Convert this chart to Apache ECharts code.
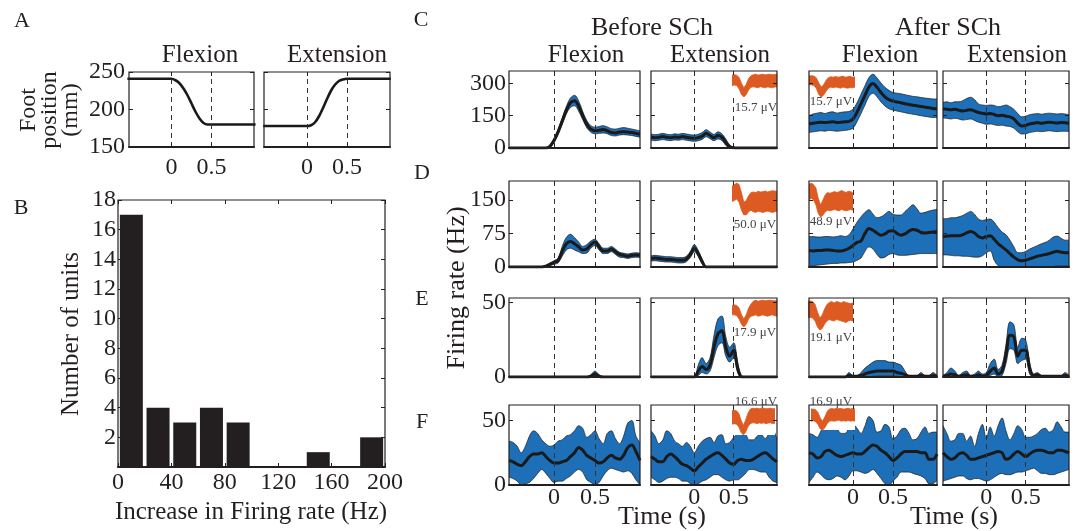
<!DOCTYPE html>
<html>
<head>
<meta charset="utf-8">
<script src="https://cdn.jsdelivr.net/npm/echarts@6/dist/echarts.min.js"></script>
<style>
  html, body { margin: 0; padding: 0; background: #fff; }
  #chart { width: 1084px; height: 531px; }
</style>
</head>
<body>
<div id="chart"></div>
<script>
// ---- data ----
const tAxis = [-0.55,-0.5,-0.45,-0.4,-0.35,-0.3,-0.25,-0.2,-0.15,-0.1,-0.05,0,0.05,0.1,0.15,0.2,0.25,0.3,0.35,0.4,0.45,0.5,0.55,0.6,0.65,0.7,0.75,0.8,0.85,0.9,0.95,1,1.05]
const eventTimes = [0, 0.5]

// A: foot position (mm)
const footFlexion = [241,241,241,241,241,241,241,241,241,241,241,241,239,235,228,219,208,197,188,182,180,180,180,180,180,180,180,180,180,180,180,180,180]
const footExtension = [178,178,178,178,178,178,178,178,178,178,178,178,179,183,191,202,214,225,233,238,240,241,241,241,241,241,241,241,241,241,241,241,241]
const footTicks = [150, 200, 250]

// B: histogram
const histBinCentres = [10, 30, 50, 70, 90, 110, 130, 150, 170, 190]
const histCounts = [17, 4, 3, 4, 3, 0, 0, 1, 0, 2]
const histXTicks = [0, 40, 80, 120, 160, 200]
const histYTicks = [2, 4, 6, 8, 10, 12, 14, 16, 18]

// C-F: firing rate (Hz), mean and band edges
const cBFMean = [0,0,0,0,0,0,0,0,0,0,8,35,75,125,175,210,220,195,150,110,88,80,82,86,80,72,70,74,76,74,72,68,64]
const cBFUp = [2,2,2,2,2,2,2,2,2,2,14,45,88,140,193,232,245,220,170,128,104,97,100,104,98,90,88,92,95,92,88,84,80]
const cBFLo = [0,0,0,0,0,0,0,0,0,0,3,26,63,110,158,188,196,172,132,94,73,66,68,70,66,58,56,60,62,60,58,54,50]
const cBEMean = [50,48,50,53,50,48,51,50,53,50,47,45,48,55,68,58,48,58,50,26,6,1,0,0,0,0,0,0,0,0,0,0,0]
const cBEUp = [65,62,64,68,64,62,66,64,68,65,62,60,64,72,85,74,63,75,66,42,14,4,2,2,2,2,2,2,2,2,2,2,2]
const cBELo = [36,34,36,39,36,34,37,36,39,36,33,31,34,40,52,43,34,42,35,12,0,0,0,0,0,0,0,0,0,0,0,0,0]
const cAFMean = [112,115,118,120,118,120,122,118,120,122,124,135,166,205,245,284,300,282,258,238,225,218,214,210,206,202,199,196,193,190,187,184,182]
const cAFUp = [150,158,162,165,160,166,168,162,166,168,170,180,210,250,290,328,343,326,302,282,268,258,255,252,248,244,240,238,235,232,230,228,228]
const cAFLo = [72,75,78,80,78,82,80,78,80,82,85,92,122,160,200,240,255,238,214,195,182,176,172,168,164,160,157,154,150,147,144,142,142]
const cAEMean = [182,180,178,180,176,172,175,178,172,165,162,158,160,156,150,152,148,145,135,115,102,105,112,115,118,115,118,120,118,116,118,117,115]
const cAEUp = [212,215,210,215,215,220,230,236,225,205,200,198,200,198,192,195,200,192,180,160,145,148,155,158,160,157,160,162,160,158,160,158,156]
const cAELo = [140,138,135,138,135,130,132,135,128,120,115,110,112,108,105,106,102,100,92,75,65,66,72,75,78,76,78,80,78,76,78,78,76]

const dBFMean = [0,0,0,0,0,0,0,0,0,2,6,10,15,35,52,57,52,45,38,40,50,56,45,36,36,40,34,28,26,24,26,27,26]
const dBFUp = [1,1,1,1,1,1,1,1,1,3,9,14,20,46,66,73,66,56,46,50,58,62,52,42,42,46,40,33,31,29,31,32,31]
const dBFLo = [0,0,0,0,0,0,0,0,0,0,3,6,9,24,38,42,38,34,30,31,42,48,38,30,30,34,28,22,21,19,21,22,21]
const dBEMean = [19,20,19,18,17,17,16,15,15,18,28,42,30,12,0,0,0,0,0,0,0,0,0,0,0,0,0,0,0,0,0,0,0]
const dBEUp = [25,26,25,24,23,23,22,21,21,24,35,50,37,17,1,1,1,1,1,1,1,1,1,1,1,1,1,1,1,1,1,1,1]
const dBELo = [13,14,13,12,11,11,10,9,9,12,21,34,23,7,0,0,0,0,0,0,0,0,0,0,0,0,0,0,0,0,0,0,0]
const dAFMean = [37,36,37,37,38,38,37,36,36,38,42,48,55,58,75,86,82,76,71,74,80,81,75,71,74,80,84,82,77,76,77,78,79]
const dAFUp = [68,68,67,67,68,68,67,68,70,68,72,85,100,112,122,128,118,110,112,118,124,118,116,116,124,132,139,130,120,122,125,127,129]
const dAFLo = [3,3,4,5,6,7,8,8,9,9,10,11,15,20,35,45,40,28,20,22,28,30,27,26,26,27,28,29,30,30,30,30,30]
const dAEMean = [68,69,70,70,70,72,76,79,76,68,65,68,70,62,52,45,38,30,22,16,14,15,18,21,24,26,28,30,33,35,33,32,32]
const dAEUp = [108,108,110,110,112,115,120,124,118,107,104,106,107,100,88,78,72,60,45,32,32,35,40,44,48,52,55,60,67,69,64,60,60]
const dAELo = [27,27,26,25,25,24,24,23,22,22,25,32,36,15,3,0,0,0,0,0,0,0,0,0,0,0,0,0,1,2,2,2,2]

const eBFMean = [0,0,0,0,0,0,0,0,0,0,0,0,0,0,0,0,0,0,0,0,0.5,2,0.5,0,0,0,0,0,0,0,0,0,0]
const eBFUp = [0.3,0.3,0.3,0.3,0.3,0.3,0.3,0.3,0.3,0.3,0.3,0.3,0.3,0.3,0.3,0.3,0.3,0.3,0.3,0.3,1.5,4,1.5,0.3,0.3,0.3,0.3,0.3,0.3,0.3,0.3,0.3,0.3]
const eBFLo = [0,0,0,0,0,0,0,0,0,0,0,0,0,0,0,0,0,0,0,0,0,0.5,0,0,0,0,0,0,0,0,0,0,0]
const eBEMean = [0,0,0,0,0,0,0,0,0,0,0,0,4,7,5,8,20,29,31,20,14,18,6,0,0,0,0,0,0,0,0,0,0]
const eBEUp = [0.3,0.3,0.3,0.3,0.3,0.3,0.3,0.3,0.3,0.3,0.3,0.3,8,13,9,13,28,39,41,27,20,23,10,1,0.3,0.3,0.3,0.3,0.3,0.3,0.3,0.3,0.3]
const eBELo = [0,0,0,0,0,0,0,0,0,0,0,0,1,3,2,4,13,21,23,14,10,13,3,0,0,0,0,0,0,0,0,0,0]
const eAFMean = [0,0,0,0,0,0,0,0,0,0,1,0.5,0.5,1,2,3,3.5,4,4,4,4,4,3,2.5,1.5,0.5,0.5,0.5,1,0.5,0.5,1,0.5]
const eAFUp = [0.3,0.3,0.3,0.3,0.3,0.3,0.3,0.3,0.3,0.3,3,1,1,3,6,8,10,11,11,11,10,10,9,8,4,1,1,1,3,1,1,3,1]
const eAFLo = [0,0,0,0,0,0,0,0,0,0,0,0,0,0,0,0,0.5,1,1,1,1,1,0.5,0,0,0,0,0,0,0,0,0,0]
const eAEMean = [0.5,1,2,1.5,0.5,1,1.5,0.5,0.5,1.5,0.5,1,4,6,2,4,15,28,27,14,18,18,6,1,1.5,0.5,0.5,0.5,0.5,0.5,0.5,1,0.5]
const eAEUp = [1,3,6,4,1,3,4,1,2,4,2,3,9,12,5,8,22,37,35,20,26,25,10,2,3,1,1,1,1,1,1,3,1]
const eAELo = [0,0,0,0,0,0,0,0,0,0,0,0,1,2,0,1,9,19,18,9,11,12,2,0,0,0,0,0,0,0,0,0,0]

const fBFMean = [19,18,16,15,18,22,24,24,25,22,19,17,17,18,19,22,25,29,27,23,21,19,17,18,21,23,21,20,23,29,31,26,19]
const fBFUp = [34,33,30,25,30,38,42,40,35,32,30,31,34,35,38,39,42,46,44,37,39,42,36,32,40,42,36,32,38,48,50,38,33]
const fBFLo = [6,5,3,0,1,2,5,9,12,9,5,2,3,3,5,7,10,12,10,4,2,0,2,7,11,13,12,11,10,11,9,4,0]
const fBEMean = [22,20,18,18,22,24,22,19,16,15,13,11,14,17,20,22,24,25,23,20,17,16,19,20,19,19,20,22,24,25,23,20,18]
const fBEUp = [42,38,32,35,42,40,34,32,30,33,30,25,30,34,36,37,33,38,39,32,33,37,40,43,40,35,35,38,39,36,40,42,35]
const fBELo = [6,4,2,3,5,6,6,5,3,3,1,0,1,3,4,6,8,8,6,4,3,4,4,6,9,12,12,11,10,10,6,3,2]
const fAFMean = [25,24,21,22,26,27,25,23,22,23,24,25,24,24,26,29,31,30,27,25,22,19,21,24,26,26,26,26,25,25,20,20,24]
const fAFUp = [40,39,37,42,48,46,43,43,40,40,44,47,44,40,46,53,50,41,42,47,45,36,38,43,44,40,35,36,41,45,40,41,41]
const fAFLo = [2,6,10,8,5,4,5,7,6,4,7,11,11,10,9,10,12,9,5,1,0,3,6,10,10,10,9,8,7,5,1,1,4]
const fAEMean = [25,22,20,21,24,25,23,20,20,21,22,23,24,25,26,25,20,21,24,26,24,22,24,26,27,27,26,25,25,27,27,26,25]
const fAEUp = [46,40,34,35,40,40,34,38,30,40,47,36,45,38,46,52,42,35,40,46,43,37,37,38,40,43,44,41,43,49,45,41,41]
const fAELo = [3,4,5,6,7,7,5,4,5,5,4,3,4,6,8,9,8,8,9,10,10,11,12,13,11,9,9,8,8,9,10,11,12]

const cTicks = [0, 150, 300]
const dTicks = [0, 75, 150]
const eTicks = [0, 50]
const fTicks = [0, 50]

// spike waveform insets (normalised amplitude, envelope of the traces)
const waveIdx = [0,1,2,3,4,5,6,7,8,9,10,11,12,13,14,15,16,17,18,19]
const wC2Up = [0.95,0.97,0.95,0.85,0.6,0.4,0.55,0.8,0.92,0.97,1,0.95,0.98,1,0.96,0.99,1,0.97,0.98,1]
const wC2Lo = [0.5,0.52,0.5,0.35,0.1,0,0.1,0.3,0.42,0.45,0.42,0.4,0.45,0.42,0.4,0.44,0.42,0.4,0.43,0.45]
const wC3Up = [0.95,0.97,0.95,0.88,0.65,0.45,0.55,0.75,0.88,0.92,0.9,0.93,0.9,0.92,0.95,0.9,0.92,0.94,0.9,0.92]
const wC3Lo = [0.55,0.55,0.52,0.4,0.12,0,0.08,0.25,0.4,0.45,0.42,0.45,0.43,0.4,0.45,0.42,0.4,0.43,0.42,0.45]
const wD2Up = [0.9,0.95,1,0.95,0.7,0.4,0.45,0.6,0.7,0.72,0.7,0.74,0.72,0.73,0.75,0.72,0.74,0.76,0.75,0.74]
const wD2Lo = [0.42,0.45,0.5,0.4,0.15,0,0,0.1,0.15,0.1,0.08,0.12,0.1,0.08,0.1,0.12,0.1,0.08,0.1,0.12]
const wD3Up = [0.95,1,0.95,0.85,0.55,0.35,0.5,0.65,0.72,0.7,0.72,0.75,0.72,0.74,0.78,0.75,0.72,0.76,0.75,0.7]
const wD3Lo = [0.5,0.55,0.5,0.35,0.1,0,0.05,0.15,0.2,0.18,0.2,0.22,0.2,0.18,0.22,0.2,0.18,0.2,0.22,0.2]
const wE2Up = [0.8,0.82,0.8,0.7,0.45,0.3,0.45,0.7,0.85,0.95,1,0.95,0.98,1,0.97,0.99,1,0.98,0.97,0.99]
const wE2Lo = [0.45,0.45,0.42,0.3,0.1,0,0.1,0.3,0.4,0.42,0.45,0.4,0.42,0.45,0.42,0.4,0.43,0.45,0.42,0.4]
const wE3Up = [0.95,0.97,0.95,0.85,0.6,0.4,0.5,0.7,0.85,0.92,0.95,0.9,0.95,0.93,0.9,0.95,0.92,0.9,0.88,0.9]
const wE3Lo = [0.4,0.42,0.4,0.3,0.1,0,0.05,0.2,0.3,0.35,0.32,0.3,0.35,0.33,0.3,0.28,0.25,0.3,0.32,0.3]
const wF2Up = [0.9,0.92,0.9,0.8,0.55,0.35,0.55,0.8,0.95,1,0.98,1,0.97,0.99,1,0.97,0.98,1,0.97,0.98]
const wF2Lo = [0.4,0.42,0.4,0.3,0.1,0,0.1,0.3,0.42,0.45,0.45,0.42,0.45,0.43,0.45,0.42,0.44,0.45,0.42,0.44]
const wF3Up = [0.95,0.95,0.92,0.8,0.55,0.4,0.6,0.85,0.95,0.98,0.95,1,0.97,0.98,0.95,0.97,1,0.96,0.98,0.95]
const wF3Lo = [0.4,0.42,0.38,0.25,0.05,0,0.1,0.3,0.4,0.42,0.4,0.42,0.45,0.4,0.42,0.4,0.43,0.4,0.42,0.4]

// ---- styling ----
const FONT = '"Liberation Serif", "DejaVu Serif", serif'
const INK = "#231f20"
const BLUE = "#1d6fb8"
const ORANGE = "#dd5a22"

const grids = []
const xAxes = []
const yAxes = []
const mirrorX = []
const mirrorY = []
const series = []
const graphics = []

function addPanel(rect, xOpt, yOpt, border) {
  const gi = grids.length
  grids.push({
    left: rect[0], top: rect[1], width: rect[2], height: rect[3],
    show: border !== false,
    borderColor: INK, borderWidth: 1.2,
    backgroundColor: "transparent",
    z: 10,
  })
  xAxes.push(Object.assign({ gridIndex: gi, type: "value", z: 10, splitLine: { show: false } }, xOpt))
  yAxes.push(Object.assign({ gridIndex: gi, type: "value", z: 10, splitLine: { show: false } }, yOpt))
  return gi
}

// MATLAB "box on": repeat the ticks on the top and right edges
function addMirror(gi, xMin, xMax, xTicks, yMin, yMax, yTicks) {
  const tick = { show: true, inside: true, length: 4, lineStyle: { color: INK } }
  mirrorX.push({
    gridIndex: gi, type: "value", position: "top", z: 10, min: xMin, max: xMax,
    axisLine: { show: false, onZero: false }, splitLine: { show: false },
    axisTick: Object.assign({ customValues: xTicks }, tick),
    axisLabel: { show: false },
  })
  mirrorY.push({
    gridIndex: gi, type: "value", position: "right", z: 10, min: yMin, max: yMax,
    axisLine: { show: false, onZero: false }, splitLine: { show: false },
    axisTick: Object.assign({ customValues: yTicks }, tick),
    axisLabel: { show: false },
  })
}

function timeAxis(min, max, showLabels, margin) {
  return {
    min, max,
    axisLine: { show: true, onZero: false, lineStyle: { color: INK, width: 2 } },
    axisTick: { show: true, inside: true, length: 4, customValues: eventTimes, lineStyle: { color: INK } },
    axisLabel: {
      show: showLabels, customValues: eventTimes,
      formatter: v => String(v),
      fontFamily: FONT, fontSize: 24, color: INK, margin: margin == null ? 5 : margin,
    },
  }
}

function valueAxis(min, max, ticks, showLabels, margin) {
  return {
    min, max, position: "left",
    axisLine: { show: false, onZero: false },
    axisTick: { show: true, inside: true, length: 4, customValues: ticks, lineStyle: { color: INK } },
    axisLabel: {
      show: showLabels, customValues: ticks,
      fontFamily: FONT, fontSize: 24, color: INK, margin: margin == null ? 4 : margin,
    },
  }
}

const dashLine = {
  silent: true,
  symbol: ["none", "none"],
  label: { show: false },
  emphasis: { disabled: true },
  lineStyle: { color: "#333", type: [5, 4], width: 1 },
  data: eventTimes.map(t => ({ xAxis: t })),
}

// band = upper edge filled down to the axis, then lower edge filled white
function addBand(gi, mean, up, lo) {
  series.push({
    type: "line", xAxisIndex: gi, yAxisIndex: gi,
    data: tAxis.map((t, i) => [t, up[i]]),
    smooth: 0.35, symbol: "none", silent: true, z: 2,
    lineStyle: { color: "#1b1b1b", width: 0.7 },
    areaStyle: { color: BLUE, opacity: 1, origin: "start" },
  })
  series.push({
    type: "line", xAxisIndex: gi, yAxisIndex: gi,
    data: tAxis.map((t, i) => [t, lo[i]]),
    smooth: 0.35, symbol: "none", silent: true, z: 2,
    lineStyle: { color: "#1b1b1b", width: 0.7 },
    areaStyle: { color: "#ffffff", opacity: 1, origin: "start" },
  })
  series.push({
    type: "line", xAxisIndex: gi, yAxisIndex: gi,
    data: tAxis.map((t, i) => [t, mean[i]]),
    smooth: 0.35, symbol: "none", silent: true, z: 3,
    lineStyle: { color: "#1a1a1a", width: 3 },
    markLine: dashLine,
  })
}

function addWave(rect, up, lo) {
  const gi = addPanel(rect,
    { min: 0, max: 19, show: false },
    { min: 0, max: 1, show: false }, false)
  series.push({
    type: "line", xAxisIndex: gi, yAxisIndex: gi,
    data: waveIdx.map((x, i) => [x, up[i]]),
    symbol: "none", silent: true, z: 5,
    lineStyle: { color: ORANGE, width: 0.8 },
    areaStyle: { color: ORANGE, opacity: 1, origin: "start" },
  })
  series.push({
    type: "line", xAxisIndex: gi, yAxisIndex: gi,
    data: waveIdx.map((x, i) => [x, lo[i]]),
    symbol: "none", silent: true, z: 5,
    lineStyle: { color: ORANGE, width: 0.8 },
    areaStyle: { color: "#ffffff", opacity: 1, origin: "start" },
  })
}

function addText(text, x, y, size, opts) {
  graphics.push(Object.assign({
    type: "text", x, y, silent: true, z: 100,
    style: Object.assign({
      text, fill: INK,
      font: size + "px " + FONT,
      align: "center", verticalAlign: "middle",
      textAlign: "center", textVerticalAlign: "middle",
    }, (opts && opts.style) || {}),
  }, (opts && opts.el) || {}))
}

// ---- A: foot position ----
const aFlex = addPanel([129, 72, 125, 75], timeAxis(-0.53, 1.03, true, 9), valueAxis(150, 250, footTicks, true, 4))
addMirror(aFlex, -0.53, 1.03, eventTimes, 150, 250, footTicks)
series.push({
  type: "line", xAxisIndex: aFlex, yAxisIndex: aFlex,
  data: tAxis.map((t, i) => [t, footFlexion[i]]),
  smooth: 0.3, symbol: "none", silent: true, z: 3,
  lineStyle: { color: "#1a1a1a", width: 2.6 }, markLine: dashLine,
})
const aExt = addPanel([264, 72, 126, 75], timeAxis(-0.54, 1.04, true, 9), valueAxis(150, 250, footTicks, false))
addMirror(aExt, -0.54, 1.04, eventTimes, 150, 250, footTicks)
series.push({
  type: "line", xAxisIndex: aExt, yAxisIndex: aExt,
  data: tAxis.map((t, i) => [t, footExtension[i]]),
  smooth: 0.3, symbol: "none", silent: true, z: 3,
  lineStyle: { color: "#1a1a1a", width: 2.6 }, markLine: dashLine,
})

// ---- B: histogram ----
const bHist = addPanel([118, 200, 267, 267],
  {
    min: 0, max: 200,
    axisLine: { show: true, onZero: false, lineStyle: { color: INK, width: 2 } },
    axisTick: { show: true, inside: true, length: 4, customValues: histXTicks, lineStyle: { color: INK } },
    axisLabel: { customValues: histXTicks, fontFamily: FONT, fontSize: 24, color: INK, margin: 4 },
  },
  {
    min: 0, max: 18, position: "left",
    axisLine: { show: false, onZero: false },
    axisTick: { show: true, inside: true, length: 4, customValues: histYTicks, lineStyle: { color: INK } },
    axisLabel: { customValues: histYTicks, fontFamily: FONT, fontSize: 24, color: INK, margin: 2 },
  })
addMirror(bHist, 0, 200, histXTicks, 0, 18, histYTicks)
series.push({
  type: "bar", xAxisIndex: bHist, yAxisIndex: bHist,
  data: histBinCentres.map((c, i) => [c, histCounts[i]]),
  barWidth: 23, silent: true,
  itemStyle: { color: INK },
})

// ---- C-F: firing rate panels ----
const colRects = [[509, 131], [651, 126], [809, 128], [943, 126]]
const rowRects = [[71, 77], [181, 86], [298, 79], [405, 80]]
const rowMax = [358, 192, 53, 62]
const rowTicks = [cTicks, dTicks, eTicks, fTicks]
const panelData = [
  [[cBFMean, cBFUp, cBFLo], [cBEMean, cBEUp, cBELo], [cAFMean, cAFUp, cAFLo], [cAEMean, cAEUp, cAELo]],
  [[dBFMean, dBFUp, dBFLo], [dBEMean, dBEUp, dBELo], [dAFMean, dAFUp, dAFLo], [dAEMean, dAEUp, dAELo]],
  [[eBFMean, eBFUp, eBFLo], [eBEMean, eBEUp, eBELo], [eAFMean, eAFUp, eAFLo], [eAEMean, eAEUp, eAELo]],
  [[fBFMean, fBFUp, fBFLo], [fBEMean, fBEUp, fBELo], [fAFMean, fAFUp, fAFLo], [fAEMean, fAEUp, fAELo]],
]

rowRects.forEach((row, r) => {
  colRects.forEach((col, c) => {
    const gi = addPanel([col[0], row[0], col[1], row[1]],
      timeAxis(-0.55, 1.05, r === 3, 1),
      valueAxis(0, rowMax[r], rowTicks[r], c === 0, 3))
    addMirror(gi, -0.55, 1.05, eventTimes, 0, rowMax[r], rowTicks[r])
    const [m, u, l] = panelData[r][c]
    addBand(gi, m, u, l)
  })
})

// spike waveform insets
addWave([732, 74, 45, 23], wC2Up, wC2Lo)
addWave([809, 75, 46, 22], wC3Up, wC3Lo)
addWave([732, 183, 45, 32], wD2Up, wD2Lo)
addWave([809, 183, 44, 34], wD3Up, wD3Lo)
addWave([732, 300, 45, 27], wE2Up, wE2Lo)
addWave([808, 300, 45, 30], wE3Up, wE3Lo)
addWave([732, 408, 43, 27], wF2Up, wF2Lo)
addWave([811, 408, 44, 22], wF3Up, wF3Lo)

// ---- text ----
addText("A", 22, 21, 22)
addText("B", 21, 208, 22)
addText("C", 421, 20, 22)
addText("D", 422, 173, 22)
addText("E", 422, 299, 22)
addText("F", 422, 422, 22)

addText("Flexion", 200, 55, 25)
addText("Extension", 337, 55, 25)
addText("Foot\nposition\n(mm)", 50, 110, 24, { el: { rotation: Math.PI / 2 }, style: { lineHeight: 21 } })
addText("Number of units", 71, 334, 25, { el: { rotation: Math.PI / 2 } })
addText("Increase in Firing rate (Hz)", 251, 512, 25)

addText("Before SCh", 652, 28, 26)
addText("After SCh", 948, 28, 26)
addText("Flexion", 586, 55, 25)
addText("Extension", 720, 55, 25)
addText("Flexion", 880, 55, 25)
addText("Extension", 1017, 55, 25)
addText("Firing rate (Hz)", 457, 288, 26, { el: { rotation: Math.PI / 2 } })
addText("Time (s)", 662, 517, 26)
addText("Time (s)", 954, 517, 26)

const uvStyle = { style: { fill: "#444" } }
addText("15.7 μV", 756, 108, 13, uvStyle)
addText("15.7 μV", 831, 102, 13, uvStyle)
addText("50.0 μV", 755, 225, 13, uvStyle)
addText("48.9 μV", 831, 222, 13, uvStyle)
addText("17.9 μV", 755, 333, 13, uvStyle)
addText("19.1 μV", 831, 338, 13, uvStyle)
addText("16.6 μV", 756, 402, 13, uvStyle)
addText("16.9 μV", 831, 402, 13, uvStyle)

const chart = echarts.init(document.getElementById("chart"), null, { renderer: "canvas" })
chart.setOption({
  animation: false,
  backgroundColor: "#fff",
  grid: grids,
  xAxis: xAxes.concat(mirrorX),
  yAxis: yAxes.concat(mirrorY),
  series,
  graphic: { elements: graphics },
})
</script>
</body>
</html>
